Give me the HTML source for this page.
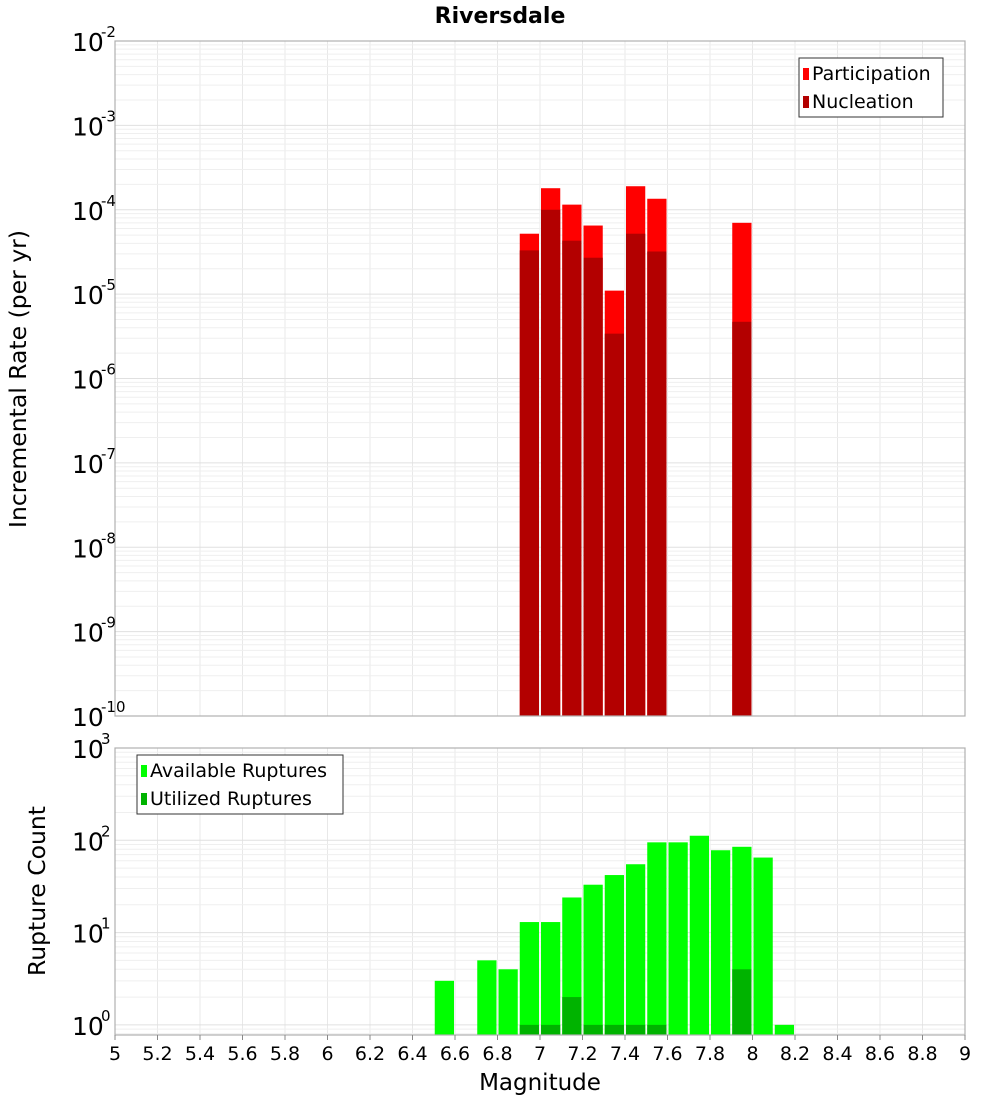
<!DOCTYPE html>
<html><head><meta charset="utf-8"><style>
body{margin:0;background:#fff}
svg{display:block;font-family:"DejaVu Sans","Liberation Sans",sans-serif}
</style></head><body>
<svg id="chart" width="1000" height="1100" xmlns="http://www.w3.org/2000/svg">
<text x="500" y="23" text-anchor="middle" font-size="22" font-weight="bold">Riversdale</text>
<g id="top"></g>
<g id="bot"></g>
<text transform="translate(26,379) rotate(-90)" text-anchor="middle" font-size="23.5">Incremental Rate (per yr)</text>
<text transform="translate(45,891) rotate(-90)" text-anchor="middle" font-size="23.5">Rupture Count</text>
<text x="540" y="1090" text-anchor="middle" font-size="23">Magnitude</text>
</svg>
<script>
const partMags=[6.95,7.05,7.15,7.25,7.35,7.45,7.55,7.95];
const partVals=[5.2e-5,1.8e-4,1.15e-4,6.5e-5,1.1e-5,1.9e-4,1.35e-4,7e-5];
const nuclMags=[6.95,7.05,7.15,7.25,7.35,7.45,7.55,7.95];
const nuclVals=[3.3e-5,1e-4,4.3e-5,2.7e-5,3.4e-6,5.2e-5,3.2e-5,4.7e-6];
const availMags=[6.55,6.75,6.85,6.95,7.05,7.15,7.25,7.35,7.45,7.55,7.65,7.75,7.85,7.95,8.05,8.15];
const availVals=[3,5,4,13,13,24,33,42,55,95,95,112,78,85,65,1];
const utilMags=[6.95,7.05,7.15,7.25,7.35,7.45,7.55,7.95];
const utilVals=[1,1,2,1,1,1,1,4];
const xTicks=["5","5.2","5.4","5.6","5.8","6","6.2","6.4","6.6","6.8","7","7.2","7.4","7.6","7.8","8","8.2","8.4","8.6","8.8","9"];
const topExps=[-2,-3,-4,-5,-6,-7,-8,-9,-10];
const botExps=[3,2,1,0];

const NS="http://www.w3.org/2000/svg";
const X0=115,X1=965;
const xs=m=>X0+(m-5)/4*(X1-X0);
function mk(p,t,a){const e=document.createElementNS(NS,t);for(const k in a)e.setAttribute(k,a[k]);p.appendChild(e);return e;}
function panel(g,top,bot,lmax,lmin){
  const ys=v=>top+(lmax-Math.log10(v))/(lmax-lmin)*(bot-top);
  mk(g,'rect',{x:X0,y:top,width:X1-X0,height:bot-top,fill:'#fff'});
  for(let m=5;m<=9.001;m+=0.2){mk(g,'line',{x1:xs(m),x2:xs(m),y1:top,y2:bot,stroke:'#e8e8e8'});}
  for(let e=Math.floor(lmin);e<lmax;e++)for(let k=1;k<10;k++){const v=k*Math.pow(10,e);if(Math.log10(v)<lmin)continue;const y=ys(v);
    mk(g,'line',{x1:X0,x2:X1,y1:y,y2:y,stroke:k==1?'#e0e0e0':'#efefef'});}
  return ys;
}
function bars(g,ys,mags,vals,col,name,bot){
  mags.forEach((m,i)=>{const y=ys(vals[i]);
    const r=mk(g,'rect',{x:xs(m-0.05)+1,y:y,width:xs(m+0.05)-xs(m-0.05)-2,height:bot-y,fill:col});
    
    });
}
function frame(g,top,bot){mk(g,'rect',{x:X0,y:top,width:X1-X0,height:bot-top,fill:'none',stroke:'#b0b0b0','stroke-width':1.2});}
function ylabels(g,ys,exps){
  exps.forEach(e=>{const y=ys(Math.pow(10,e));
    const t=mk(g,'text',{x:72,y:y+10,'font-size':25});
    
    
    t.textContent='10';
    const s=mk(g,'text',{x:101,y:y-4,'font-size':15});s.textContent=String(e);});
}
function legend(g,x,y,w,items){
  mk(g,'rect',{x:x,y:y,width:w,height:59,fill:'#fff',stroke:'#333'});
  items.forEach((it,i)=>{const yy=y+15+i*28;
    mk(g,'rect',{x:x+4,y:yy-5,width:6,height:12,fill:it[1]});
    const t=mk(g,'text',{x:x+13,y:yy+7,'font-size':19});
    
    
    t.textContent=it[0];});
}
const T=document.getElementById('top'),B=document.getElementById('bot');
const TT=41,TB=716,BT=748,BB=1035;
const ysT=panel(T,TT,TB,-2,-10);
bars(T,ysT,partMags,partVals,'#ff0000','participation-bar',TB);
bars(T,ysT,nuclMags,nuclVals,'#b30000','nucleation-bar',TB);
frame(T,TT,TB);ylabels(T,ysT,topExps);
legend(T,799,58,144,[['Participation','#ff0000'],['Nucleation','#b30000']]);
const ysB=panel(B,BT,BB,3,-0.11);
bars(B,ysB,availMags,availVals,'#00ff00','available-bar',BB);
bars(B,ysB,utilMags,utilVals,'#00b300','utilized-bar',BB);
frame(B,BT,BB);ylabels(B,ysB,botExps);
legend(B,137,755,206,[['Available Ruptures','#00ff00'],['Utilized Ruptures','#00b300']]);
xTicks.forEach(s=>{const x=xs(parseFloat(s));
  mk(B,'line',{x1:x,x2:x,y1:BB,y2:BB+5,stroke:'#888'});
  const t=mk(B,'text',{x:x,y:1060,'text-anchor':'middle','font-size':19});
  
  
  t.textContent=s;});
</script>
</body></html>
